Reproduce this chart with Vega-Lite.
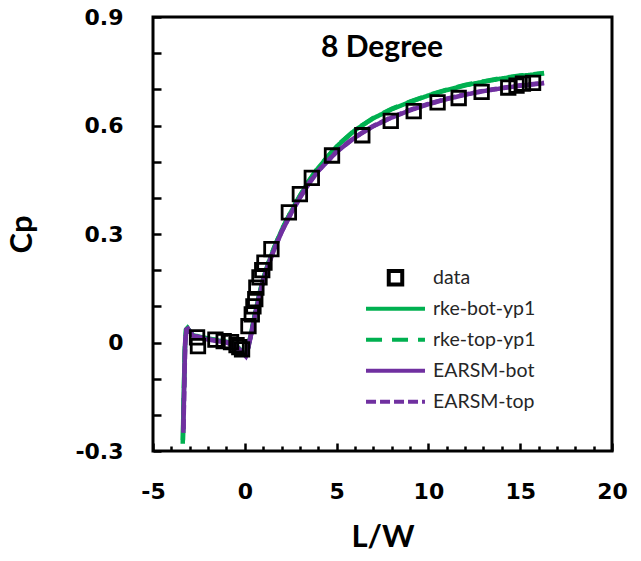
{
  "$schema": "https://vega.github.io/schema/vega-lite/v6.json",
  "width": 459,
  "height": 434,
  "autosize": {"type": "none"},
  "padding": {"left": 153, "top": 17, "right": 29, "bottom": 110},
  "background": "white",
  "config": {
    "view": {"stroke": "black", "strokeWidth": 3},
    "axis": {
      "domain": false,
      "grid": false,
      "tickColor": "black",
      "tickWidth": 2.5,
      "labelFont": "DejaVu Sans",
      "labelFontWeight": "bold",
      "labelFontSize": 22,
      "labelColor": "black",
      "titleFont": "Lato",
      "titleFontWeight": "bold",
      "titleFontSize": 31,
      "titleColor": "black"
    }
  },
  "data": {
    "values": [
      {"series": "data", "x": -2.6, "y": 0.014},
      {"series": "data", "x": -2.55, "y": -0.01},
      {"series": "data", "x": -1.6, "y": 0.008},
      {"series": "data", "x": -1.15, "y": 0.004},
      {"series": "data", "x": -0.75, "y": 0.001},
      {"series": "data", "x": -0.45, "y": -0.007},
      {"series": "data", "x": -0.3, "y": -0.013},
      {"series": "data", "x": -0.15, "y": -0.019},
      {"series": "data", "x": 0.2, "y": 0.045},
      {"series": "data", "x": 0.38, "y": 0.078},
      {"series": "data", "x": 0.47, "y": 0.1},
      {"series": "data", "x": 0.57, "y": 0.12},
      {"series": "data", "x": 0.63, "y": 0.152},
      {"series": "data", "x": 0.8, "y": 0.18},
      {"series": "data", "x": 0.95, "y": 0.2},
      {"series": "data", "x": 1.07, "y": 0.221},
      {"series": "data", "x": 1.45, "y": 0.258},
      {"series": "data", "x": 2.4, "y": 0.36},
      {"series": "data", "x": 3.0, "y": 0.41},
      {"series": "data", "x": 3.65, "y": 0.455},
      {"series": "data", "x": 4.75, "y": 0.517},
      {"series": "data", "x": 6.4, "y": 0.573},
      {"series": "data", "x": 7.95, "y": 0.613},
      {"series": "data", "x": 9.2, "y": 0.64},
      {"series": "data", "x": 10.5, "y": 0.664},
      {"series": "data", "x": 11.65, "y": 0.676},
      {"series": "data", "x": 12.9, "y": 0.693},
      {"series": "data", "x": 14.35, "y": 0.705},
      {"series": "data", "x": 14.8, "y": 0.71},
      {"series": "data", "x": 15.15, "y": 0.716},
      {"series": "data", "x": 15.7, "y": 0.718},

      {"series": "rke-bot-yp1", "x": -3.38, "y": -0.28},
      {"series": "rke-bot-yp1", "x": -3.33, "y": -0.15},
      {"series": "rke-bot-yp1", "x": -3.27, "y": -0.02},
      {"series": "rke-bot-yp1", "x": -3.2, "y": 0.035},
      {"series": "rke-bot-yp1", "x": -3.12, "y": 0.04},
      {"series": "rke-bot-yp1", "x": -3.0, "y": 0.03},
      {"series": "rke-bot-yp1", "x": -2.8, "y": 0.02},
      {"series": "rke-bot-yp1", "x": -2.0, "y": 0.01},
      {"series": "rke-bot-yp1", "x": -1.0, "y": 0.002},
      {"series": "rke-bot-yp1", "x": -0.5, "y": -0.008},
      {"series": "rke-bot-yp1", "x": -0.1, "y": -0.028},
      {"series": "rke-bot-yp1", "x": 0.05, "y": -0.035},
      {"series": "rke-bot-yp1", "x": 0.2, "y": -0.01},
      {"series": "rke-bot-yp1", "x": 0.4, "y": 0.04},
      {"series": "rke-bot-yp1", "x": 0.6, "y": 0.09},
      {"series": "rke-bot-yp1", "x": 0.8, "y": 0.135},
      {"series": "rke-bot-yp1", "x": 1.0, "y": 0.175},
      {"series": "rke-bot-yp1", "x": 1.3, "y": 0.222},
      {"series": "rke-bot-yp1", "x": 1.6, "y": 0.262},
      {"series": "rke-bot-yp1", "x": 2.0, "y": 0.31},
      {"series": "rke-bot-yp1", "x": 2.5, "y": 0.36},
      {"series": "rke-bot-yp1", "x": 3.0, "y": 0.405},
      {"series": "rke-bot-yp1", "x": 3.5, "y": 0.447},
      {"series": "rke-bot-yp1", "x": 4.0, "y": 0.483},
      {"series": "rke-bot-yp1", "x": 5.0, "y": 0.542},
      {"series": "rke-bot-yp1", "x": 6.0, "y": 0.587},
      {"series": "rke-bot-yp1", "x": 7.0, "y": 0.62},
      {"series": "rke-bot-yp1", "x": 8.0, "y": 0.645},
      {"series": "rke-bot-yp1", "x": 9.0, "y": 0.665},
      {"series": "rke-bot-yp1", "x": 10.0, "y": 0.683},
      {"series": "rke-bot-yp1", "x": 11.0, "y": 0.698},
      {"series": "rke-bot-yp1", "x": 12.0, "y": 0.711},
      {"series": "rke-bot-yp1", "x": 13.0, "y": 0.721},
      {"series": "rke-bot-yp1", "x": 14.0, "y": 0.73},
      {"series": "rke-bot-yp1", "x": 15.0, "y": 0.737},
      {"series": "rke-bot-yp1", "x": 16.3, "y": 0.744},

      {"series": "rke-top-yp1", "x": -3.37, "y": -0.27},
      {"series": "rke-top-yp1", "x": -3.32, "y": -0.14},
      {"series": "rke-top-yp1", "x": -3.26, "y": -0.015},
      {"series": "rke-top-yp1", "x": -3.2, "y": 0.036},
      {"series": "rke-top-yp1", "x": -3.12, "y": 0.04},
      {"series": "rke-top-yp1", "x": -3.0, "y": 0.031},
      {"series": "rke-top-yp1", "x": -2.8, "y": 0.021},
      {"series": "rke-top-yp1", "x": -2.0, "y": 0.011},
      {"series": "rke-top-yp1", "x": -1.0, "y": 0.003},
      {"series": "rke-top-yp1", "x": -0.5, "y": -0.007},
      {"series": "rke-top-yp1", "x": -0.1, "y": -0.027},
      {"series": "rke-top-yp1", "x": 0.05, "y": -0.034},
      {"series": "rke-top-yp1", "x": 0.2, "y": -0.009},
      {"series": "rke-top-yp1", "x": 0.4, "y": 0.041},
      {"series": "rke-top-yp1", "x": 0.6, "y": 0.091},
      {"series": "rke-top-yp1", "x": 0.8, "y": 0.136},
      {"series": "rke-top-yp1", "x": 1.0, "y": 0.176},
      {"series": "rke-top-yp1", "x": 1.3, "y": 0.223},
      {"series": "rke-top-yp1", "x": 1.6, "y": 0.263},
      {"series": "rke-top-yp1", "x": 2.0, "y": 0.311},
      {"series": "rke-top-yp1", "x": 2.5, "y": 0.361},
      {"series": "rke-top-yp1", "x": 3.0, "y": 0.406},
      {"series": "rke-top-yp1", "x": 3.5, "y": 0.448},
      {"series": "rke-top-yp1", "x": 4.0, "y": 0.484},
      {"series": "rke-top-yp1", "x": 5.0, "y": 0.543},
      {"series": "rke-top-yp1", "x": 6.0, "y": 0.588},
      {"series": "rke-top-yp1", "x": 7.0, "y": 0.621},
      {"series": "rke-top-yp1", "x": 8.0, "y": 0.646},
      {"series": "rke-top-yp1", "x": 9.0, "y": 0.666},
      {"series": "rke-top-yp1", "x": 10.0, "y": 0.684},
      {"series": "rke-top-yp1", "x": 11.0, "y": 0.699},
      {"series": "rke-top-yp1", "x": 12.0, "y": 0.712},
      {"series": "rke-top-yp1", "x": 13.0, "y": 0.722},
      {"series": "rke-top-yp1", "x": 14.0, "y": 0.731},
      {"series": "rke-top-yp1", "x": 15.0, "y": 0.738},
      {"series": "rke-top-yp1", "x": 16.3, "y": 0.745},

      {"series": "EARSM-bot", "x": -3.35, "y": -0.25},
      {"series": "EARSM-bot", "x": -3.3, "y": -0.12},
      {"series": "EARSM-bot", "x": -3.25, "y": 0.0},
      {"series": "EARSM-bot", "x": -3.18, "y": 0.035},
      {"series": "EARSM-bot", "x": -3.1, "y": 0.038},
      {"series": "EARSM-bot", "x": -3.0, "y": 0.03},
      {"series": "EARSM-bot", "x": -2.8, "y": 0.018},
      {"series": "EARSM-bot", "x": -2.0, "y": 0.008},
      {"series": "EARSM-bot", "x": -1.0, "y": 0.0},
      {"series": "EARSM-bot", "x": -0.5, "y": -0.01},
      {"series": "EARSM-bot", "x": -0.1, "y": -0.03},
      {"series": "EARSM-bot", "x": 0.05, "y": -0.038},
      {"series": "EARSM-bot", "x": 0.2, "y": -0.012},
      {"series": "EARSM-bot", "x": 0.4, "y": 0.035},
      {"series": "EARSM-bot", "x": 0.6, "y": 0.085},
      {"series": "EARSM-bot", "x": 0.8, "y": 0.13},
      {"series": "EARSM-bot", "x": 1.0, "y": 0.17},
      {"series": "EARSM-bot", "x": 1.3, "y": 0.217},
      {"series": "EARSM-bot", "x": 1.6, "y": 0.257},
      {"series": "EARSM-bot", "x": 2.0, "y": 0.305},
      {"series": "EARSM-bot", "x": 2.5, "y": 0.355},
      {"series": "EARSM-bot", "x": 3.0, "y": 0.4},
      {"series": "EARSM-bot", "x": 3.5, "y": 0.44},
      {"series": "EARSM-bot", "x": 4.0, "y": 0.474},
      {"series": "EARSM-bot", "x": 5.0, "y": 0.527},
      {"series": "EARSM-bot", "x": 6.0, "y": 0.567},
      {"series": "EARSM-bot", "x": 7.0, "y": 0.598},
      {"series": "EARSM-bot", "x": 8.0, "y": 0.622},
      {"series": "EARSM-bot", "x": 9.0, "y": 0.642},
      {"series": "EARSM-bot", "x": 10.0, "y": 0.659},
      {"series": "EARSM-bot", "x": 11.0, "y": 0.673},
      {"series": "EARSM-bot", "x": 12.0, "y": 0.685},
      {"series": "EARSM-bot", "x": 13.0, "y": 0.695},
      {"series": "EARSM-bot", "x": 14.0, "y": 0.703},
      {"series": "EARSM-bot", "x": 15.0, "y": 0.71},
      {"series": "EARSM-bot", "x": 16.3, "y": 0.717},

      {"series": "EARSM-top", "x": -3.34, "y": -0.24},
      {"series": "EARSM-top", "x": -3.29, "y": -0.11},
      {"series": "EARSM-top", "x": -3.24, "y": 0.004},
      {"series": "EARSM-top", "x": -3.18, "y": 0.036},
      {"series": "EARSM-top", "x": -3.1, "y": 0.038},
      {"series": "EARSM-top", "x": -3.0, "y": 0.031},
      {"series": "EARSM-top", "x": -2.8, "y": 0.019},
      {"series": "EARSM-top", "x": -2.0, "y": 0.009},
      {"series": "EARSM-top", "x": -1.0, "y": 0.001},
      {"series": "EARSM-top", "x": -0.5, "y": -0.009},
      {"series": "EARSM-top", "x": -0.1, "y": -0.029},
      {"series": "EARSM-top", "x": 0.05, "y": -0.037},
      {"series": "EARSM-top", "x": 0.2, "y": -0.011},
      {"series": "EARSM-top", "x": 0.4, "y": 0.036},
      {"series": "EARSM-top", "x": 0.6, "y": 0.086},
      {"series": "EARSM-top", "x": 0.8, "y": 0.131},
      {"series": "EARSM-top", "x": 1.0, "y": 0.171},
      {"series": "EARSM-top", "x": 1.3, "y": 0.218},
      {"series": "EARSM-top", "x": 1.6, "y": 0.258},
      {"series": "EARSM-top", "x": 2.0, "y": 0.306},
      {"series": "EARSM-top", "x": 2.5, "y": 0.356},
      {"series": "EARSM-top", "x": 3.0, "y": 0.401},
      {"series": "EARSM-top", "x": 3.5, "y": 0.441},
      {"series": "EARSM-top", "x": 4.0, "y": 0.475},
      {"series": "EARSM-top", "x": 5.0, "y": 0.528},
      {"series": "EARSM-top", "x": 6.0, "y": 0.568},
      {"series": "EARSM-top", "x": 7.0, "y": 0.599},
      {"series": "EARSM-top", "x": 8.0, "y": 0.623},
      {"series": "EARSM-top", "x": 9.0, "y": 0.643},
      {"series": "EARSM-top", "x": 10.0, "y": 0.66},
      {"series": "EARSM-top", "x": 11.0, "y": 0.674},
      {"series": "EARSM-top", "x": 12.0, "y": 0.686},
      {"series": "EARSM-top", "x": 13.0, "y": 0.696},
      {"series": "EARSM-top", "x": 14.0, "y": 0.704},
      {"series": "EARSM-top", "x": 15.0, "y": 0.711},
      {"series": "EARSM-top", "x": 16.3, "y": 0.718}
    ]
  },
  "layer": [
    {
      "transform": [{"filter": "datum.series !== 'data'"}],
      "mark": {"type": "line", "strokeWidth": 4.5},
      "encoding": {
        "x": {
          "field": "x",
          "type": "quantitative",
          "title": "L/W",
          "scale": {"domain": [-5, 20], "nice": false, "zero": false},
          "axis": {
            "values": [-5, -4, -3, -2, -1, 0, 1, 2, 3, 4, 5, 6, 7, 8, 9, 10, 11, 12, 13, 14, 15, 16, 17, 18, 19, 20],
            "labelExpr": "datum.value % 5 === 0 ? toString(datum.value) : ''",
            "tickSize": {"condition": {"test": "datum.value % 5 === 0", "value": -8}, "value": -5},
            "labelPadding": 38,
            "labelFlush": false,
            "labelOverlap": false,
            "titlePadding": 17
          }
        },
        "y": {
          "field": "y",
          "type": "quantitative",
          "title": "Cp",
          "scale": {"domain": [-0.3, 0.9], "nice": false, "zero": false},
          "axis": {
            "values": [-0.3, -0.2, -0.1, 0, 0.1, 0.2, 0.3, 0.4, 0.5, 0.6, 0.7, 0.8, 0.9],
            "labelExpr": "round(datum.value * 10) % 3 === 0 ? (round(datum.value * 10) === 0 ? '0' : toString(round(datum.value * 10) / 10)) : ''",
            "tickSize": -8,
            "labelPadding": 38,
            "labelFlush": false,
            "labelOverlap": false,
            "titlePadding": 36
          }
        },
        "color": {
          "field": "series",
          "type": "nominal",
          "scale": {
            "domain": ["data", "rke-bot-yp1", "rke-top-yp1", "EARSM-bot", "EARSM-top"],
            "range": ["black", "#00B050", "#00B050", "#7030A0", "#7030A0"]
          },
          "legend": {
            "title": null,
            "orient": "none",
            "legendX": 232.75,
            "legendY": 251,
            "padding": 0,
            "symbolSize": 182,
            "symbolStrokeWidth": 4,
            "labelFont": "Lato",
            "labelFontSize": 19.5,
            "labelColor": "#262626",
            "labelOffset": 27.75,
            "labelLimit": 0,
            "gridAlign": "all",
            "rowPadding": 5
          }
        },
        "strokeDash": {
          "field": "series",
          "type": "nominal",
          "scale": {
            "domain": ["data", "rke-bot-yp1", "rke-top-yp1", "EARSM-bot", "EARSM-top"],
            "range": [[1, 0], [1, 0], [16, 10], [1, 0], [10, 4]]
          },
          "legend": {"title": null}
        }
      }
    },
    {
      "transform": [{"filter": "datum.series === 'data'"}],
      "mark": {"type": "point", "filled": false, "strokeWidth": 2.8, "size": 182, "opacity": 1},
      "encoding": {
        "x": {
          "field": "x",
          "type": "quantitative",
          "title": "L/W",
          "scale": {"domain": [-5, 20], "nice": false, "zero": false},
          "axis": {
            "values": [-5, -4, -3, -2, -1, 0, 1, 2, 3, 4, 5, 6, 7, 8, 9, 10, 11, 12, 13, 14, 15, 16, 17, 18, 19, 20],
            "labelExpr": "datum.value % 5 === 0 ? toString(datum.value) : ''",
            "tickSize": {"condition": {"test": "datum.value % 5 === 0", "value": -8}, "value": -5},
            "labelPadding": 38,
            "labelFlush": false,
            "labelOverlap": false,
            "titlePadding": 17
          }
        },
        "y": {
          "field": "y",
          "type": "quantitative",
          "title": "Cp",
          "scale": {"domain": [-0.3, 0.9], "nice": false, "zero": false},
          "axis": {
            "values": [-0.3, -0.2, -0.1, 0, 0.1, 0.2, 0.3, 0.4, 0.5, 0.6, 0.7, 0.8, 0.9],
            "labelExpr": "round(datum.value * 10) % 3 === 0 ? (round(datum.value * 10) === 0 ? '0' : toString(round(datum.value * 10) / 10)) : ''",
            "tickSize": -8,
            "labelPadding": 38,
            "labelFlush": false,
            "labelOverlap": false,
            "titlePadding": 36
          }
        },
        "color": {"field": "series", "type": "nominal"},
        "shape": {
          "field": "series",
          "type": "nominal",
          "scale": {
            "domain": ["data", "rke-bot-yp1", "rke-top-yp1", "EARSM-bot", "EARSM-top"],
            "range": ["square", "M-4.37,0H4.37", "M-4.37,0H4.37", "M-4.37,0H4.37", "M-4.37,0H4.37"]
          },
          "legend": {"title": null}
        }
      }
    },
    {
      "data": {"values": [{"label": "8 Degree"}]},
      "mark": {
        "type": "text",
        "font": "Lato",
        "fontSize": 30,
        "fontWeight": "bold",
        "fill": "black",
        "align": "center",
        "baseline": "alphabetic"
      },
      "encoding": {
        "x": {
          "datum": 7.47,
          "type": "quantitative",
          "title": "L/W",
          "scale": {"domain": [-5, 20], "nice": false, "zero": false},
          "axis": {
            "values": [-5, -4, -3, -2, -1, 0, 1, 2, 3, 4, 5, 6, 7, 8, 9, 10, 11, 12, 13, 14, 15, 16, 17, 18, 19, 20],
            "labelExpr": "datum.value % 5 === 0 ? toString(datum.value) : ''",
            "tickSize": {"condition": {"test": "datum.value % 5 === 0", "value": -8}, "value": -5},
            "labelPadding": 38,
            "labelFlush": false,
            "labelOverlap": false,
            "titlePadding": 17
          }
        },
        "y": {
          "datum": 0.7894,
          "type": "quantitative",
          "title": "Cp",
          "scale": {"domain": [-0.3, 0.9], "nice": false, "zero": false},
          "axis": {
            "values": [-0.3, -0.2, -0.1, 0, 0.1, 0.2, 0.3, 0.4, 0.5, 0.6, 0.7, 0.8, 0.9],
            "labelExpr": "round(datum.value * 10) % 3 === 0 ? (round(datum.value * 10) === 0 ? '0' : toString(round(datum.value * 10) / 10)) : ''",
            "tickSize": -8,
            "labelPadding": 38,
            "labelFlush": false,
            "labelOverlap": false,
            "titlePadding": 36
          }
        },
        "text": {"field": "label", "type": "nominal"}
      }
    }
  ]
}
